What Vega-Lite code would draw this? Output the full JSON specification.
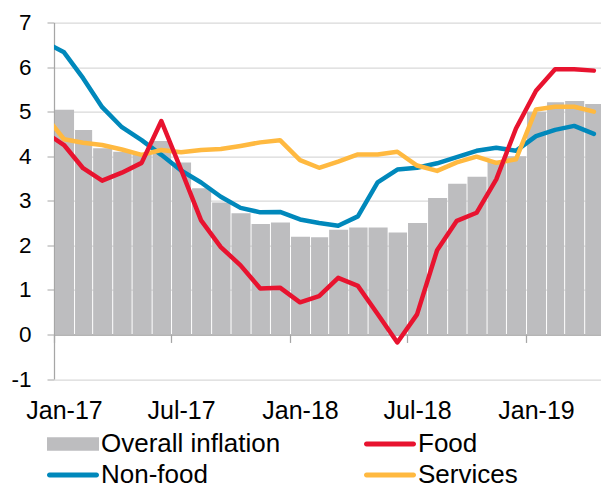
{
  "$schema": "https://vega.github.io/schema/vega-lite/v6.json",
  "width": 547,
  "height": 356.5,
  "autosize": {"type": "none"},
  "padding": {"left": 54, "top": 22.5, "right": 0, "bottom": 110},
  "background": "white",
  "config": {
    "view": {"stroke": null},
    "font": "Liberation Sans",
    "axis": {"labelFont": "Liberation Sans", "labelColor": "#000000", "title": null},
    "axisX": {
      "format": "%b-%y",
      "grid": false,
      "offset": -44.56,
      "domainColor": "#A6A6A6",
      "domainWidth": 1.5,
      "tickColor": "#A6A6A6",
      "tickSize": 8,
      "tickWidth": 1.25,
      "labelFontSize": 25,
      "labelOffset": 10,
      "labelPadding": 56,
      "labelFlush": false,
      "labelOverlap": false,
      "labelBound": false
    }
  },
  "data": {
    "values": [
      {"month": "2017-01-01", "series": "Overall inflation", "value": 5.04},
      {"month": "2017-02-01", "series": "Overall inflation", "value": 4.59},
      {"month": "2017-03-01", "series": "Overall inflation", "value": 4.18},
      {"month": "2017-04-01", "series": "Overall inflation", "value": 4.10},
      {"month": "2017-05-01", "series": "Overall inflation", "value": 4.05},
      {"month": "2017-06-01", "series": "Overall inflation", "value": 4.34},
      {"month": "2017-07-01", "series": "Overall inflation", "value": 3.86},
      {"month": "2017-08-01", "series": "Overall inflation", "value": 3.28},
      {"month": "2017-09-01", "series": "Overall inflation", "value": 2.96},
      {"month": "2017-10-01", "series": "Overall inflation", "value": 2.72},
      {"month": "2017-11-01", "series": "Overall inflation", "value": 2.48},
      {"month": "2017-12-01", "series": "Overall inflation", "value": 2.51},
      {"month": "2018-01-01", "series": "Overall inflation", "value": 2.19},
      {"month": "2018-02-01", "series": "Overall inflation", "value": 2.18},
      {"month": "2018-03-01", "series": "Overall inflation", "value": 2.35},
      {"month": "2018-04-01", "series": "Overall inflation", "value": 2.40},
      {"month": "2018-05-01", "series": "Overall inflation", "value": 2.40},
      {"month": "2018-06-01", "series": "Overall inflation", "value": 2.29},
      {"month": "2018-07-01", "series": "Overall inflation", "value": 2.50},
      {"month": "2018-08-01", "series": "Overall inflation", "value": 3.06},
      {"month": "2018-09-01", "series": "Overall inflation", "value": 3.38},
      {"month": "2018-10-01", "series": "Overall inflation", "value": 3.54},
      {"month": "2018-11-01", "series": "Overall inflation", "value": 3.90},
      {"month": "2018-12-01", "series": "Overall inflation", "value": 4.00},
      {"month": "2019-01-01", "series": "Overall inflation", "value": 5.00},
      {"month": "2019-02-01", "series": "Overall inflation", "value": 5.21},
      {"month": "2019-03-01", "series": "Overall inflation", "value": 5.24},
      {"month": "2019-04-01", "series": "Overall inflation", "value": 5.17},

      {"month": "2016-12-01", "series": "Food", "value": 4.55},
      {"month": "2017-01-01", "series": "Food", "value": 4.25},
      {"month": "2017-02-01", "series": "Food", "value": 3.73},
      {"month": "2017-03-01", "series": "Food", "value": 3.45},
      {"month": "2017-04-01", "series": "Food", "value": 3.63},
      {"month": "2017-05-01", "series": "Food", "value": 3.85},
      {"month": "2017-06-01", "series": "Food", "value": 4.79},
      {"month": "2017-07-01", "series": "Food", "value": 3.70},
      {"month": "2017-08-01", "series": "Food", "value": 2.56},
      {"month": "2017-09-01", "series": "Food", "value": 1.96},
      {"month": "2017-10-01", "series": "Food", "value": 1.55},
      {"month": "2017-11-01", "series": "Food", "value": 1.03},
      {"month": "2017-12-01", "series": "Food", "value": 1.05},
      {"month": "2018-01-01", "series": "Food", "value": 0.72},
      {"month": "2018-02-01", "series": "Food", "value": 0.86},
      {"month": "2018-03-01", "series": "Food", "value": 1.27},
      {"month": "2018-04-01", "series": "Food", "value": 1.09},
      {"month": "2018-05-01", "series": "Food", "value": 0.46},
      {"month": "2018-06-01", "series": "Food", "value": -0.18},
      {"month": "2018-07-01", "series": "Food", "value": 0.45},
      {"month": "2018-08-01", "series": "Food", "value": 1.89},
      {"month": "2018-09-01", "series": "Food", "value": 2.55},
      {"month": "2018-10-01", "series": "Food", "value": 2.73},
      {"month": "2018-11-01", "series": "Food", "value": 3.48},
      {"month": "2018-12-01", "series": "Food", "value": 4.62},
      {"month": "2019-01-01", "series": "Food", "value": 5.47},
      {"month": "2019-02-01", "series": "Food", "value": 5.95},
      {"month": "2019-03-01", "series": "Food", "value": 5.95},
      {"month": "2019-04-01", "series": "Food", "value": 5.92},

      {"month": "2016-12-01", "series": "Non-food", "value": 6.57},
      {"month": "2017-01-01", "series": "Non-food", "value": 6.33},
      {"month": "2017-02-01", "series": "Non-food", "value": 5.75},
      {"month": "2017-03-01", "series": "Non-food", "value": 5.10},
      {"month": "2017-04-01", "series": "Non-food", "value": 4.65},
      {"month": "2017-05-01", "series": "Non-food", "value": 4.36},
      {"month": "2017-06-01", "series": "Non-food", "value": 4.03},
      {"month": "2017-07-01", "series": "Non-food", "value": 3.68},
      {"month": "2017-08-01", "series": "Non-food", "value": 3.41},
      {"month": "2017-09-01", "series": "Non-food", "value": 3.09},
      {"month": "2017-10-01", "series": "Non-food", "value": 2.84},
      {"month": "2017-11-01", "series": "Non-food", "value": 2.74},
      {"month": "2017-12-01", "series": "Non-food", "value": 2.75},
      {"month": "2018-01-01", "series": "Non-food", "value": 2.58},
      {"month": "2018-02-01", "series": "Non-food", "value": 2.50},
      {"month": "2018-03-01", "series": "Non-food", "value": 2.44},
      {"month": "2018-04-01", "series": "Non-food", "value": 2.65},
      {"month": "2018-05-01", "series": "Non-food", "value": 3.41},
      {"month": "2018-06-01", "series": "Non-food", "value": 3.70},
      {"month": "2018-07-01", "series": "Non-food", "value": 3.74},
      {"month": "2018-08-01", "series": "Non-food", "value": 3.84},
      {"month": "2018-09-01", "series": "Non-food", "value": 3.98},
      {"month": "2018-10-01", "series": "Non-food", "value": 4.12},
      {"month": "2018-11-01", "series": "Non-food", "value": 4.19},
      {"month": "2018-12-01", "series": "Non-food", "value": 4.12},
      {"month": "2019-01-01", "series": "Non-food", "value": 4.45},
      {"month": "2019-02-01", "series": "Non-food", "value": 4.59},
      {"month": "2019-03-01", "series": "Non-food", "value": 4.68},
      {"month": "2019-04-01", "series": "Non-food", "value": 4.50},

      {"month": "2016-12-01", "series": "Services", "value": 4.95},
      {"month": "2017-01-01", "series": "Services", "value": 4.38},
      {"month": "2017-02-01", "series": "Services", "value": 4.30},
      {"month": "2017-03-01", "series": "Services", "value": 4.25},
      {"month": "2017-04-01", "series": "Services", "value": 4.15},
      {"month": "2017-05-01", "series": "Services", "value": 4.03},
      {"month": "2017-06-01", "series": "Services", "value": 4.14},
      {"month": "2017-07-01", "series": "Services", "value": 4.09},
      {"month": "2017-08-01", "series": "Services", "value": 4.14},
      {"month": "2017-09-01", "series": "Services", "value": 4.16},
      {"month": "2017-10-01", "series": "Services", "value": 4.23},
      {"month": "2017-11-01", "series": "Services", "value": 4.31},
      {"month": "2017-12-01", "series": "Services", "value": 4.36},
      {"month": "2018-01-01", "series": "Services", "value": 3.91},
      {"month": "2018-02-01", "series": "Services", "value": 3.74},
      {"month": "2018-03-01", "series": "Services", "value": 3.88},
      {"month": "2018-04-01", "series": "Services", "value": 4.04},
      {"month": "2018-05-01", "series": "Services", "value": 4.04},
      {"month": "2018-06-01", "series": "Services", "value": 4.10},
      {"month": "2018-07-01", "series": "Services", "value": 3.79},
      {"month": "2018-08-01", "series": "Services", "value": 3.67},
      {"month": "2018-09-01", "series": "Services", "value": 3.86},
      {"month": "2018-10-01", "series": "Services", "value": 3.99},
      {"month": "2018-11-01", "series": "Services", "value": 3.85},
      {"month": "2018-12-01", "series": "Services", "value": 3.93},
      {"month": "2019-01-01", "series": "Services", "value": 5.05},
      {"month": "2019-02-01", "series": "Services", "value": 5.11},
      {"month": "2019-03-01", "series": "Services", "value": 5.11},
      {"month": "2019-04-01", "series": "Services", "value": 5.00}
    ]
  },
  "encoding": {
    "y": {
      "field": "value",
      "type": "quantitative",
      "scale": {"domain": [-1, 7], "nice": false, "zero": false},
      "axis": {
        "values": [-1, 0, 1, 2, 3, 4, 5, 6, 7],
        "labelExpr": "'' + datum.value",
        "labelFontSize": 22.5,
        "grid": true,
        "gridColor": "#D9D9D9",
        "gridWidth": 1.25,
        "domainColor": "#A6A6A6",
        "domainWidth": 1.25,
        "tickColor": "#A6A6A6",
        "tickSize": 7,
        "labelPadding": 16,
        "labelFlush": false,
        "labelOverlap": false
      }
    },
    "color": {
      "field": "series",
      "type": "nominal",
      "scale": {
        "domain": ["Overall inflation", "Non-food", "Food", "Services"],
        "range": ["#BDBDBF", "#0088BB", "#E8132F", "#FFB940"]
      },
      "legend": {
        "title": null,
        "orient": "none",
        "legendX": -10,
        "legendY": 408.5,
        "columns": 2,
        "padding": 0,
        "labelFont": "Liberation Sans",
        "labelFontSize": 26,
        "labelColor": "#000000",
        "labelLimit": 400,
        "labelOffset": 31,
        "columnPadding": 80,
        "rowPadding": 5,
        "symbolSize": 400,
        "symbolStrokeWidth": 0,
        "symbolOffset": 0,
        "encode": {
          "symbols": {
            "update": {
              "shape": {"signal": "datum.value === 'Overall inflation' ? 'M-1,-0.67H4.2V0.67H-1Z' : 'M-0.75,-0.25H3.95A0.25,0.25 0 0 1 3.95,0.25H-0.75A0.25,0.25 0 0 1 -0.75,-0.25Z'"},
              "fill": {"scale": "color", "field": "value"},
              "stroke": {"value": "transparent"},
              "strokeWidth": {"value": 0},
              "opacity": {"value": 1}
            }
          }
        }
      }
    },
    "x": {
      "field": "month",
      "type": "temporal",
      "timeUnit": "utcyearmonth",
      "scale": {
        "type": "utc",
        "domain": [{"year": 2017, "month": 1, "date": 1, "utc": true}, {"year": 2019, "month": 4, "date": 27, "utc": true}],
        "nice": false,
        "padding": 0
      },
      "axis": {
        "values": [
          {"year": 2017, "month": 1, "date": 1, "utc": true},
          {"year": 2017, "month": 7, "date": 1, "utc": true},
          {"year": 2018, "month": 1, "date": 1, "utc": true},
          {"year": 2018, "month": 7, "date": 1, "utc": true},
          {"year": 2019, "month": 1, "date": 1, "utc": true}
        ]
      }
    }
  },
  "layer": [
    {
      "transform": [{"filter": "datum.series === 'Overall inflation'"}],
      "mark": {"type": "bar", "timeUnitBandSize": 0.76, "clip": true}
    },
    {
      "transform": [{"filter": "datum.series === 'Non-food'"}],
      "mark": {"type": "line", "strokeWidth": 4.5, "clip": true, "strokeJoin": "round", "strokeCap": "round"},
      "encoding": {
        "x": {
          "field": "month",
          "type": "temporal",
          "timeUnit": "utcyearmonth",
          "bandPosition": 0.5,
          "scale": {
            "type": "utc",
            "domain": [{"year": 2017, "month": 1, "date": 1, "utc": true}, {"year": 2019, "month": 4, "date": 27, "utc": true}],
            "nice": false,
            "padding": 0
          },
          "axis": {
            "values": [
              {"year": 2017, "month": 1, "date": 1, "utc": true},
              {"year": 2017, "month": 7, "date": 1, "utc": true},
              {"year": 2018, "month": 1, "date": 1, "utc": true},
              {"year": 2018, "month": 7, "date": 1, "utc": true},
              {"year": 2019, "month": 1, "date": 1, "utc": true}
            ]
          }
        }
      }
    },
    {
      "transform": [{"filter": "datum.series === 'Services'"}],
      "mark": {"type": "line", "strokeWidth": 4.5, "clip": true, "strokeJoin": "round", "strokeCap": "round"},
      "encoding": {
        "x": {
          "field": "month",
          "type": "temporal",
          "timeUnit": "utcyearmonth",
          "bandPosition": 0.5,
          "scale": {
            "type": "utc",
            "domain": [{"year": 2017, "month": 1, "date": 1, "utc": true}, {"year": 2019, "month": 4, "date": 27, "utc": true}],
            "nice": false,
            "padding": 0
          },
          "axis": {
            "values": [
              {"year": 2017, "month": 1, "date": 1, "utc": true},
              {"year": 2017, "month": 7, "date": 1, "utc": true},
              {"year": 2018, "month": 1, "date": 1, "utc": true},
              {"year": 2018, "month": 7, "date": 1, "utc": true},
              {"year": 2019, "month": 1, "date": 1, "utc": true}
            ]
          }
        }
      }
    },
    {
      "transform": [{"filter": "datum.series === 'Food'"}],
      "mark": {"type": "line", "strokeWidth": 4.5, "clip": true, "strokeJoin": "round", "strokeCap": "round"},
      "encoding": {
        "x": {
          "field": "month",
          "type": "temporal",
          "timeUnit": "utcyearmonth",
          "bandPosition": 0.5,
          "scale": {
            "type": "utc",
            "domain": [{"year": 2017, "month": 1, "date": 1, "utc": true}, {"year": 2019, "month": 4, "date": 27, "utc": true}],
            "nice": false,
            "padding": 0
          },
          "axis": {
            "values": [
              {"year": 2017, "month": 1, "date": 1, "utc": true},
              {"year": 2017, "month": 7, "date": 1, "utc": true},
              {"year": 2018, "month": 1, "date": 1, "utc": true},
              {"year": 2018, "month": 7, "date": 1, "utc": true},
              {"year": 2019, "month": 1, "date": 1, "utc": true}
            ]
          }
        }
      }
    }
  ]
}
